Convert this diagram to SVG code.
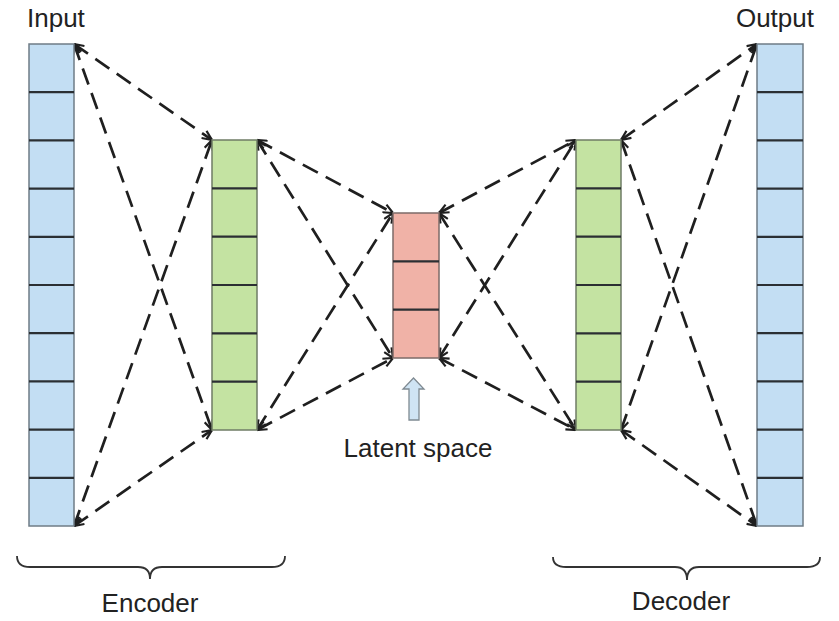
<svg xmlns="http://www.w3.org/2000/svg" width="839" height="621" viewBox="0 0 839 621">
<defs>
<style>
.lbl{font-family:"Liberation Sans",Arial,sans-serif;font-size:26px;fill:#222}
.blue{fill:#c3def3;stroke:#6f7c86;stroke-width:1.5}
.green{fill:#c4e3a2;stroke:#6f7c66;stroke-width:1.5}
.red{fill:#f0b2a7;stroke:#7c6b68;stroke-width:1.5}
.div{stroke:#2b2f33;stroke-width:2.2}
.con{fill:none;stroke:#1f1f1f;stroke-width:2.7;stroke-dasharray:17 9;marker-start:url(#ah);marker-end:url(#ah)}
.brace{fill:none;stroke:#333;stroke-width:1.8}
</style>
<marker id="ah" viewBox="0 0 10 10" refX="10" refY="5" markerWidth="4" markerHeight="4" orient="auto-start-reverse" markerUnits="strokeWidth">
<path d="M1,1 L10,5 L1,9" fill="none" stroke="#1f1f1f" stroke-width="2"/>
</marker>
</defs>
<rect width="839" height="621" fill="#fff"/>

<g id="connectors">
<line class="con" x1="74" y1="44" x2="212" y2="140"/>
<line class="con" x1="74" y1="44" x2="212" y2="430"/>
<line class="con" x1="74" y1="526" x2="212" y2="140"/>
<line class="con" x1="74" y1="526" x2="212" y2="430"/>
<line class="con" x1="257" y1="140" x2="393" y2="213"/>
<line class="con" x1="257" y1="140" x2="393" y2="358"/>
<line class="con" x1="257" y1="430" x2="393" y2="213"/>
<line class="con" x1="257" y1="430" x2="393" y2="358"/>
<line class="con" x1="439" y1="213" x2="576" y2="140"/>
<line class="con" x1="439" y1="213" x2="576" y2="430"/>
<line class="con" x1="439" y1="358" x2="576" y2="140"/>
<line class="con" x1="439" y1="358" x2="576" y2="430"/>
<line class="con" x1="621" y1="140" x2="757" y2="44"/>
<line class="con" x1="621" y1="140" x2="757" y2="526"/>
<line class="con" x1="621" y1="430" x2="757" y2="44"/>
<line class="con" x1="621" y1="430" x2="757" y2="526"/>
</g>

<g id="input">
<rect class="blue" x="29" y="44" width="45" height="482"/>
<g class="div">
<line x1="29" y1="92.2" x2="74" y2="92.2"/>
<line x1="29" y1="140.4" x2="74" y2="140.4"/>
<line x1="29" y1="188.6" x2="74" y2="188.6"/>
<line x1="29" y1="236.8" x2="74" y2="236.8"/>
<line x1="29" y1="285" x2="74" y2="285"/>
<line x1="29" y1="333.2" x2="74" y2="333.2"/>
<line x1="29" y1="381.4" x2="74" y2="381.4"/>
<line x1="29" y1="429.6" x2="74" y2="429.6"/>
<line x1="29" y1="477.8" x2="74" y2="477.8"/>
</g>
<text class="lbl" x="27" y="27">Input</text>
</g>

<g id="encoder-hidden">
<rect class="green" x="212" y="140" width="45" height="290"/>
<g class="div">
<line x1="212" y1="188.3" x2="257" y2="188.3"/>
<line x1="212" y1="236.7" x2="257" y2="236.7"/>
<line x1="212" y1="285" x2="257" y2="285"/>
<line x1="212" y1="333.3" x2="257" y2="333.3"/>
<line x1="212" y1="381.7" x2="257" y2="381.7"/>
</g>
</g>

<g id="latent">
<rect class="red" x="393" y="213" width="46" height="145"/>
<g class="div">
<line x1="393" y1="261.3" x2="439" y2="261.3"/>
<line x1="393" y1="309.7" x2="439" y2="309.7"/>
</g>
</g>

<g id="latent-arrow">
<path d="M413.5,378 L424,389 L419,389 L419,420 L409,420 L409,389 L403,389 Z" fill="#cfe4f4" stroke="#7f8a92" stroke-width="1.3"/>
<text class="lbl" x="418" y="457" text-anchor="middle">Latent space</text>
</g>

<g id="decoder-hidden">
<rect class="green" x="576" y="140" width="45" height="290"/>
<g class="div">
<line x1="576" y1="188.3" x2="621" y2="188.3"/>
<line x1="576" y1="236.7" x2="621" y2="236.7"/>
<line x1="576" y1="285" x2="621" y2="285"/>
<line x1="576" y1="333.3" x2="621" y2="333.3"/>
<line x1="576" y1="381.7" x2="621" y2="381.7"/>
</g>
</g>

<g id="output">
<rect class="blue" x="757" y="44" width="46" height="482"/>
<g class="div">
<line x1="757" y1="92.2" x2="803" y2="92.2"/>
<line x1="757" y1="140.4" x2="803" y2="140.4"/>
<line x1="757" y1="188.6" x2="803" y2="188.6"/>
<line x1="757" y1="236.8" x2="803" y2="236.8"/>
<line x1="757" y1="285" x2="803" y2="285"/>
<line x1="757" y1="333.2" x2="803" y2="333.2"/>
<line x1="757" y1="381.4" x2="803" y2="381.4"/>
<line x1="757" y1="429.6" x2="803" y2="429.6"/>
<line x1="757" y1="477.8" x2="803" y2="477.8"/>
</g>
<text class="lbl" x="814" y="27" text-anchor="end">Output</text>
</g>

<g id="encoder-brace">
<path class="brace" d="M17,556 Q17,567 30,567 L138,567 Q150,567 150,579 Q150,567 162,567 L272,567 Q285,567 285,556"/>
<text class="lbl" x="150" y="612" text-anchor="middle">Encoder</text>
</g>

<g id="decoder-brace">
<path class="brace" d="M553,557 Q553,567 566,567 L675,567 Q687,567 687,580 Q687,567 699,567 L807,567 Q820,567 820,557"/>
<text class="lbl" x="681" y="610" text-anchor="middle">Decoder</text>
</g>
</svg>
